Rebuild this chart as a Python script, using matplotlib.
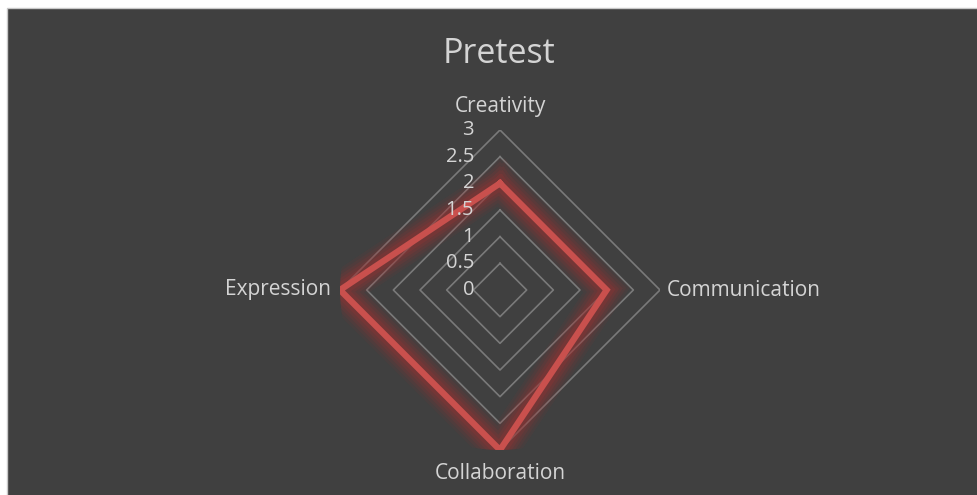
import numpy as np
import matplotlib
matplotlib.use("Agg")
import matplotlib.pyplot as plt
from matplotlib.patches import Rectangle

categories = ["Creativity", "Communication", "Collaboration", "Expression"]
values = [2, 2, 3, 3]
rings = [0.5, 1, 1.5, 2, 2.5, 3]
tick_labels = ["0", "0.5", "1", "1.5", "2", "2.5", "3"]
title = "Pretest"

bg = "#404040"
text_c = "#d4d4d4"
grid_c = "#7a7a7a"
line_c = "#c9504d"

plt.rcParams["font.family"] = ["Open Sans", "DejaVu Sans"]

dpi = 100
fig = plt.figure(figsize=(977 / dpi, 495 / dpi), dpi=dpi, facecolor="white")
fig.patches.append(Rectangle((7 / 977, -0.1), 1.1, 0.1 + 487 / 495, transform=fig.transFigure,
                             facecolor=bg, edgecolor="#c8c8c8", linewidth=1, zorder=-10))

# polar axes centred at (500, 290) px, radius 160 px for value 3
cx, cy, R = 500, 290, 160
ax = fig.add_axes([(cx - R) / 977, (495 - cy - R) / 495, 2 * R / 977, 2 * R / 495],
                  projection="polar")
ax.set_facecolor("none")
ax.set_theta_offset(np.pi / 2)
ax.set_theta_direction(-1)
ax.set_ylim(0, 3)
ax.grid(False)
ax.spines["polar"].set_visible(False)
ax.set_xticks([])
ax.set_yticks([])

n = len(categories)
theta = np.linspace(0, 2 * np.pi, n, endpoint=False)
theta_c = np.append(theta, theta[0])

for r in rings:
    ax.plot(theta_c, [r] * (n + 1), color=grid_c, lw=1.2, zorder=1)

vals_c = values + values[:1]
# soft glow
for w, a in [(26, 0.08), (22, 0.11), (18, 0.14), (14, 0.18), (10, 0.24)]:
    ax.plot(theta_c, vals_c, color="#9e3030", lw=w, alpha=a, solid_joinstyle="miter",
            zorder=2)
ax.plot(theta_c, vals_c, color=line_c, lw=4.5, solid_joinstyle="miter", zorder=3)

# value axis labels along the vertical axis
for i, lab in enumerate(tick_labels):
    r = i * 0.5
    ax.annotate(lab, xy=(0, r), xytext=(-26 * 0.72, 0), textcoords="offset points",
                ha="right", va="center", color=text_c, fontsize=14.5, annotation_clip=False)

# category labels
offsets = [(0, 13, "center", "bottom"), (7, 0, "left", "center"),
           (0, -13, "center", "top"), (-9, 0, "right", "center")]
for t, lab, (dx, dy, ha, va) in zip(theta, categories, offsets):
    ax.annotate(lab, xy=(t, 3), xytext=(dx * 0.72, dy * 0.72), textcoords="offset points",
                ha=ha, va=va, color=text_c, fontsize=15, annotation_clip=False)

fig.text(499 / 977, 1 - 54 / 495, title, ha="center", va="center", color=text_c,
         fontsize=24.5)

fig.savefig("out.png", dpi=dpi, facecolor="white")
